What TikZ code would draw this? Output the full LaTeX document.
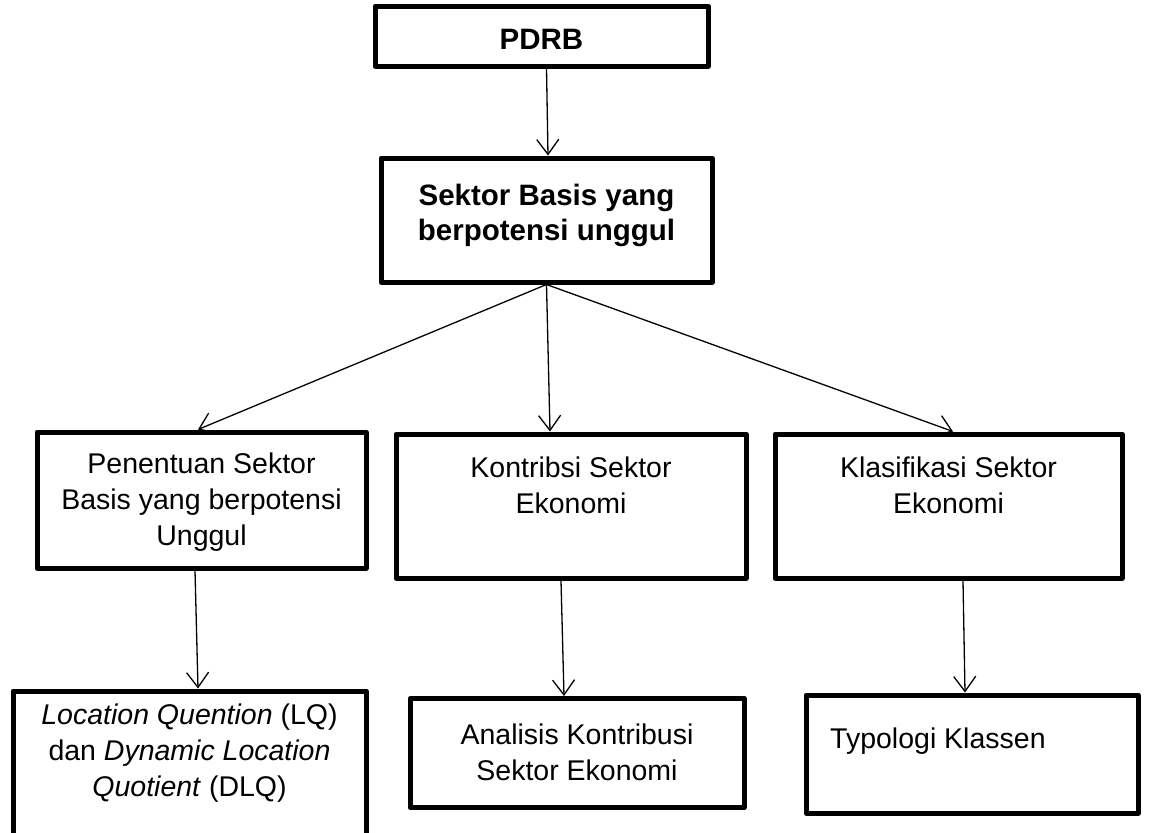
\documentclass[tikz,border=0pt]{standalone}
\usepackage{fontspec}
\setmainfont{Liberation Sans}
\usetikzlibrary{arrows.meta}
\begin{document}
\begin{tikzpicture}[x=1pt,y=-1pt,
  box/.style={draw, line width=5pt, line join=round, inner sep=0pt, outer sep=2.5pt},
  txt/.style={align=center, inner sep=0pt, font=\fontsize{28.5}{36}\selectfont},
  btxt/.style={align=center, inner sep=0pt, font=\fontsize{29.5}{35}\selectfont\bfseries},
  conn/.style={line width=1.3pt, -{Straight Barb[length=15pt,width=22pt]}}]
\useasboundingbox (0,0) rectangle (1152,833);
\fill[white] (0,0) rectangle (1152,833);
% boxes
\node[box, minimum width=333pt, minimum height=60pt] (pdrb) at (541.5,36) {};
\node[box, minimum width=331pt, minimum height=124pt] (sektor) at (546.5,220) {};
\node[box, minimum width=329pt, minimum height=136pt] (penentuan) at (201.5,500) {};
\node[box, minimum width=350pt, minimum height=144pt] (kontribsi) at (571,506) {};
\node[box, minimum width=347pt, minimum height=144pt] (klasifikasi) at (948.5,506) {};
\node[box, minimum width=353pt, minimum height=180pt] (lq) at (189.5,781) {};
\node[box, minimum width=334pt, minimum height=109pt] (analisis) at (577,753) {};
\node[box, minimum width=332pt, minimum height=118pt] (typologi) at (972,754) {};
% texts
\node[btxt] (tpdrb) at (541.5,39) {PDRB};
\node[btxt] (tsektor) at (546.5,215) {Sektor Basis yang\\berpotensi unggul};
\node[txt] (tpenentuan) at (201.5,502) {Penentuan Sektor\\Basis yang berpotensi\\Unggul};
\node[txt] (tkontribsi) at (571,485) {Kontribsi Sektor\\Ekonomi};
\node[txt] (tklasifikasi) at (948.5,485) {Klasifikasi Sektor\\Ekonomi};
\node[txt] (tlq) at (189.5,753) {\textit{Location Quention} (LQ)\\dan \textit{Dynamic Location}\\\textit{Quotient} (DLQ)};
\node[txt] (tanalisis) at (577,752) {Analisis Kontribusi\\Sektor Ekonomi};
\node[txt, anchor=west] (ttypologi) at (830,741) {Typologi Klassen};
% connectors
\draw[conn] ([xshift=5pt]pdrb.south) -- ([xshift=1.5pt]sektor.north);
\draw[conn] (sektor.south) -- ([xshift=-3.5pt]penentuan.north);
\draw[conn] (sektor.south) -- ([xshift=-21pt]kontribsi.north);
\draw[conn] (sektor.south) -- ([xshift=4.5pt]klasifikasi.north);
\draw[conn] ([xshift=-6.5pt]penentuan.south) -- ([xshift=8.5pt]lq.north);
\draw[conn] ([xshift=-10pt]kontribsi.south) -- ([xshift=-13pt]analisis.north);
\draw[conn] ([xshift=14.5pt]klasifikasi.south) -- ([xshift=-7pt]typologi.north);
\end{tikzpicture}
\end{document}
